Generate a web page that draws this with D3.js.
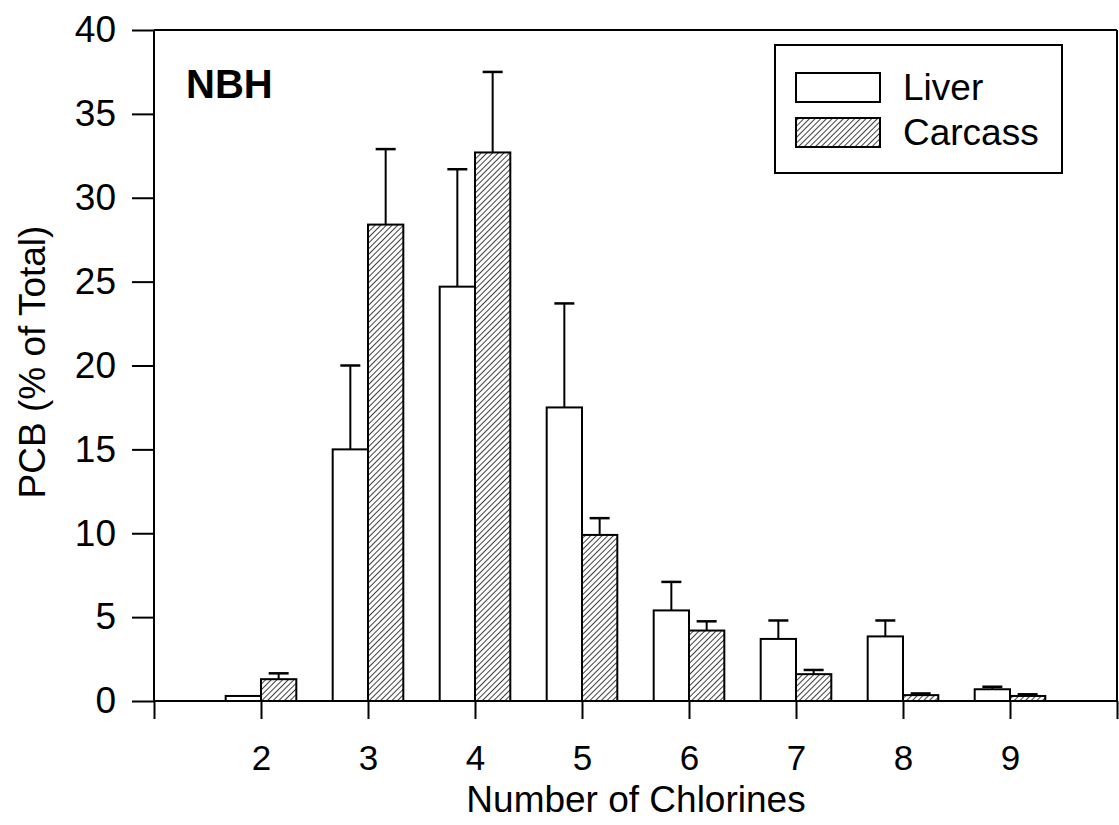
<!DOCTYPE html>
<html>
<head>
<meta charset="utf-8">
<script src="https://d3js.org/d3.v7.min.js"></script>
<style>
body { margin: 0; background: white; }
text { font-family: "Liberation Sans", Arial, sans-serif; fill: black; }
</style>
</head>
<body>
<div id="myGraph"></div>
<script>
// number of chlorines
var chlorines = [2, 3, 4, 5, 6, 7, 8, 9]
var liver = [0.3, 15.0, 24.7, 17.5, 5.4, 3.7, 3.85, 0.7]
var liverErr = [0, 5.0, 7.0, 6.2, 1.7, 1.1, 0.95, 0.15]
var carcass = [1.3, 28.4, 32.7, 9.9, 4.2, 1.6, 0.35, 0.3]
var carcassErr = [0.35, 4.5, 4.8, 1.0, 0.55, 0.25, 0.1, 0.1]
var yTicks = [0, 5, 10, 15, 20, 25, 30, 35, 40]
var xTicks = [1, 2, 3, 4, 5, 6, 7, 8, 9, 10]

var width = 1119
var height = 825
var barW = 0.33

var svg = d3.select("#myGraph")
    .append("svg")
    .attr("width", width)
    .attr("height", height)

var defs = svg.append("defs")
defs.append("pattern")
    .attr("id", "hatch")
    .attr("patternUnits", "userSpaceOnUse")
    .attr("width", 4)
    .attr("height", 4)
    .attr("patternTransform", "rotate(45)")
  .append("line")
    .attr("x1", 0).attr("y1", 0)
    .attr("x2", 0).attr("y2", 4)
    .attr("stroke", "black")
    .attr("stroke-width", 1.5)

var x = d3.scaleLinear().domain([1, 10]).range([154, 1117])
var y = d3.scaleLinear().domain([0, 40]).range([701, 30])

// build rows for the two series
var rows = []
chlorines.forEach(function(c, i) {
    rows.push({c: c, v: liver[i], e: liverErr[i], off: -barW, fill: "white"})
    rows.push({c: c, v: carcass[i], e: carcassErr[i], off: 0, fill: "url(#hatch)"})
})

// bars
svg.selectAll(".bar")
    .data(rows)
    .enter().append("rect")
    .attr("class", "bar")
    .attr("x", function(d) { return x(d.c + d.off) })
    .attr("width", function(d) { return x(d.c + d.off + barW) - x(d.c + d.off) })
    .attr("y", function(d) { return y(d.v) })
    .attr("height", function(d) { return y(0) - y(d.v) })
    .style("fill", function(d) { return d.fill })
    .style("stroke", "black")
    .style("stroke-width", 2)

// error bars (upper only)
var errs = svg.selectAll(".err")
    .data(rows.filter(function(d) { return d.e > 0 }))
    .enter().append("g")
    .attr("class", "err")
errs.append("line")
    .attr("x1", function(d) { return x(d.c + d.off + barW / 2) })
    .attr("x2", function(d) { return x(d.c + d.off + barW / 2) })
    .attr("y1", function(d) { return y(d.v) })
    .attr("y2", function(d) { return y(d.v + d.e) })
    .attr("stroke", "black")
    .attr("stroke-width", 2)
errs.append("line")
    .attr("x1", function(d) { return x(d.c + d.off + barW / 2) - 10 })
    .attr("x2", function(d) { return x(d.c + d.off + barW / 2) + 10 })
    .attr("y1", function(d) { return y(d.v + d.e) })
    .attr("y2", function(d) { return y(d.v + d.e) })
    .attr("stroke", "black")
    .attr("stroke-width", 2.5)

// axes
var yAxis = svg.append("g")
    .attr("transform", "translate(" + x(1) + ",0)")
    .call(d3.axisLeft(y).tickValues(yTicks).tickSize(22).tickPadding(16))
yAxis.selectAll(".tick text").style("font-size", "37px")
var xAxis = svg.append("g")
    .attr("transform", "translate(0," + y(0) + ")")
    .call(d3.axisBottom(x).tickValues(xTicks).tickSize(18).tickPadding(26)
        .tickFormat(function(d) { return (d == 1 || d == 10) ? "" : d }))
xAxis.selectAll(".tick text").style("font-size", "35px")
svg.selectAll(".domain").remove()
svg.selectAll(".tick line").attr("stroke", "black").attr("stroke-width", 2)

// frame lines
var frame = [[x(1), y(0), x(10), y(0)], [x(1), y(0), x(1), y(40)],
             [x(1), y(40), x(10), y(40)], [x(10), y(40), x(10), y(0)]]
svg.selectAll(".frame")
    .data(frame)
    .enter().append("line")
    .attr("x1", function(d) { return d[0] })
    .attr("y1", function(d) { return d[1] })
    .attr("x2", function(d) { return d[2] })
    .attr("y2", function(d) { return d[3] })
    .attr("stroke", "black")
    .attr("stroke-width", 2)

// titles
svg.append("text")
    .attr("x", 636)
    .attr("y", 812)
    .style("text-anchor", "middle")
    .style("font-size", "37px")
    .text("Number of Chlorines")
svg.append("text")
    .attr("transform", "translate(45,362) rotate(-90)")
    .style("text-anchor", "middle")
    .style("font-size", "37px")
    .text("PCB (% of Total)")
svg.append("text")
    .attr("x", 186)
    .attr("y", 98)
    .style("font-size", "40px")
    .style("font-weight", "bold")
    .text("NBH")

// legend
var legend = svg.append("g")
legend.append("rect")
    .attr("x", 775).attr("y", 45)
    .attr("width", 287).attr("height", 128)
    .style("fill", "white").style("stroke", "black").style("stroke-width", 2)
var legItems = [{name: "Liver", fill: "white"}, {name: "Carcass", fill: "url(#hatch)"}]
var li = legend.selectAll(".leg")
    .data(legItems)
    .enter().append("g")
    .attr("transform", function(d, i) { return "translate(0," + (i * 45) + ")" })
li.append("rect")
    .attr("x", 796).attr("y", 73)
    .attr("width", 84).attr("height", 29)
    .style("fill", function(d) { return d.fill })
    .style("stroke", "black").style("stroke-width", 2)
li.append("text")
    .attr("x", 903).attr("y", 100)
    .style("font-size", "37px")
    .text(function(d) { return d.name })
</script>
</body>
</html>
